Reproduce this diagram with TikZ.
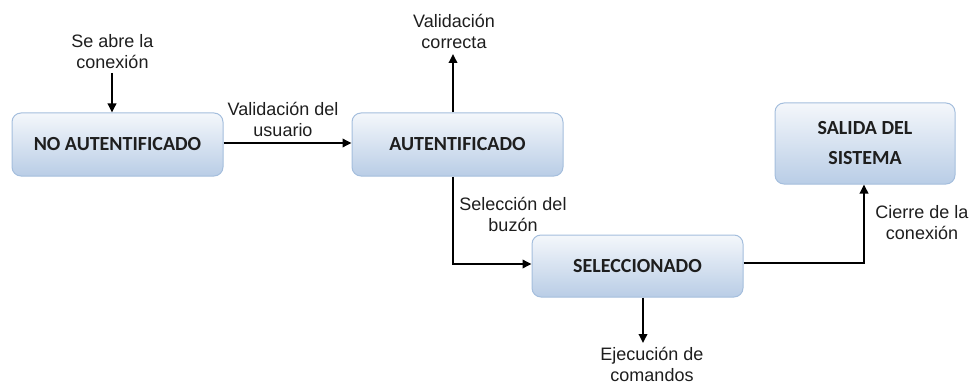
\documentclass[tikz,border=0pt]{standalone}
\usepackage{fontspec}
\setmainfont{Liberation Sans}
\newfontfamily\boxfont{Carlito}
\usetikzlibrary{arrows.meta,shadows}
\definecolor{boxborder}{HTML}{A4BEDD}
\definecolor{boxtop}{HTML}{F4F7FB}
\definecolor{boxbot}{HTML}{B9CDE6}
\definecolor{txt}{HTML}{1E1E1E}
\tikzset{
  x=1pt, y=-1pt,
  statebox/.style={draw=boxborder, line width=1pt, rounded corners=9pt,
    top color=boxtop, bottom color=boxbot, align=center,
    font=\boxfont\bfseries\fontsize{20}{30}\selectfont, text=txt,
    inner sep=0pt},
  lbl/.style={align=center, font=\fontsize{18}{21}\selectfont, text=txt, inner sep=0pt},
  conn/.style={line width=1.8pt, -{Triangle[length=9pt,width=8.5pt]}}
}
\begin{document}
\begin{tikzpicture}
\useasboundingbox (0,0) rectangle (971,385);
% boxes
\node[statebox, minimum width=211pt, minimum height=63pt] (b1) at (117.5,144.5) {NO AUTENTIFICADO};
\node[statebox, minimum width=211pt, minimum height=63pt] (b2) at (457.5,144.5) {AUTENTIFICADO};
\node[statebox, minimum width=211pt, minimum height=62pt] (b3) at (637.5,266) {SELECCIONADO};
\node[statebox, minimum width=180pt, minimum height=81pt] (b4) at (865,143.5) {SALIDA DEL\\SISTEMA};
% labels
\node[lbl] (l1) at (112.5,52) {Se abre la\\conexión};
\node[lbl] (l2) at (283,119) {Validación del\\usuario};
\node[lbl] (l3) at (454,31) {Validación\\correcta};
\node[lbl] (l4) at (513,214) {Selección del\\buzón};
\node[lbl] (l5) at (652,364) {Ejecución de\\comandos};
\node[lbl] (l6) at (922,222.5) {Cierre de la\\conexión};
% coordinates
\coordinate (s1) at (112,73);
\coordinate (t3) at (453,54);
\coordinate (t5) at (643,343);
% connectors
\draw[conn] (s1) -- (s1 |- b1.north);
\draw[conn] (b1.east |- 0,143) -- (b2.west |- 0,143);
\draw[conn] (t3 |- b2.north) -- (t3);
\draw[conn] (t3 |- b2.south) -- (453,264) -- (b3.west |- 0,264);
\draw[conn] (t5 |- b3.south) -- (t5);
\draw[conn] (b3.east |- 0,263) -- (864,263) -- (864,0 |- b4.south);
\end{tikzpicture}
\end{document}
